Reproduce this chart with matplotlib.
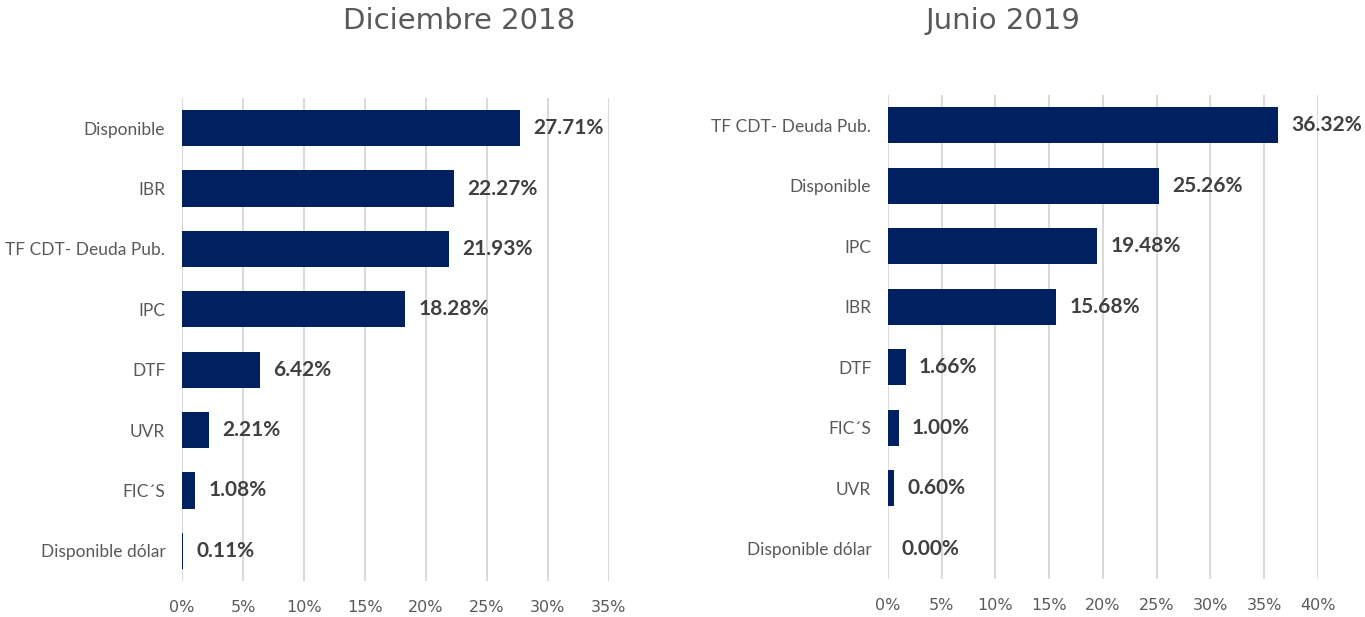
import matplotlib.pyplot as plt
import numpy as np

# ===== Data =====
dic_labels = ["Disponible", "IBR", "TF CDT- Deuda Pub.", "IPC", "DTF", "UVR",
              "FIC´S", "Disponible dólar"]
dic_values = [27.71, 22.27, 21.93, 18.28, 6.42, 2.21, 1.08, 0.11]

jun_labels = ["TF CDT- Deuda Pub.", "Disponible", "IPC", "IBR", "DTF", "FIC´S",
              "UVR", "Disponible dólar"]
jun_values = [36.32, 25.26, 19.48, 15.68, 1.66, 1.00, 0.60, 0.00]

dic_ticks = [0, 5, 10, 15, 20, 25, 30, 35]
jun_ticks = [0, 5, 10, 15, 20, 25, 30, 35, 40]

BAR_COLOR = "#002060"
GRID_COLOR = "#d9d9d9"
TEXT_GRAY = "#595959"
LABEL_GRAY = "#404040"


def draw_panel(ax, labels, values, ticks):
  y = np.arange(len(labels))
  bars = ax.barh(y, values, height=0.6, color=BAR_COLOR, zorder=3)
  ax.set_ylim(len(labels) - 0.5, -0.5)
  ax.set_xlim(ticks[0], ticks[-1])
  ax.set_yticks(y)
  ax.set_yticklabels(labels, fontfamily="Lato", fontsize=12.5, color=TEXT_GRAY)
  ax.set_xticks(ticks)
  ax.set_xticklabels([f"{t}%" for t in ticks], fontfamily="DejaVu Sans",
                     fontsize=11.5, color=TEXT_GRAY)
  ax.tick_params(axis="y", length=0, pad=12)
  ax.tick_params(axis="x", length=0, pad=14)
  ax.grid(axis="x", color=GRID_COLOR, linewidth=1.4, zorder=0)
  for s in ax.spines.values():
    s.set_visible(False)
  ax.bar_label(bars, labels=[f"{v:.2f}%" for v in values], padding=9.5,
               fontfamily="Lato", fontweight="bold", fontsize=15,
               color=LABEL_GRAY)


fig = plt.figure(figsize=(13.65, 6.17), dpi=100)
ax1 = fig.add_axes([0.1333, 0.0583, 0.3128, 0.783])
ax2 = fig.add_axes([0.6505, 0.0616, 0.315, 0.7844])

draw_panel(ax1, dic_labels, dic_values, dic_ticks)
draw_panel(ax2, jun_labels, jun_values, jun_ticks)

fig.text(0.336, 0.966, "Diciembre 2018", ha="center", va="center",
         fontfamily="DejaVu Sans", fontsize=21, color=TEXT_GRAY)
fig.text(0.735, 0.966, "Junio 2019", ha="center", va="center",
         fontfamily="DejaVu Sans", fontsize=21, color=TEXT_GRAY)

fig.savefig("out.png", dpi=100)
